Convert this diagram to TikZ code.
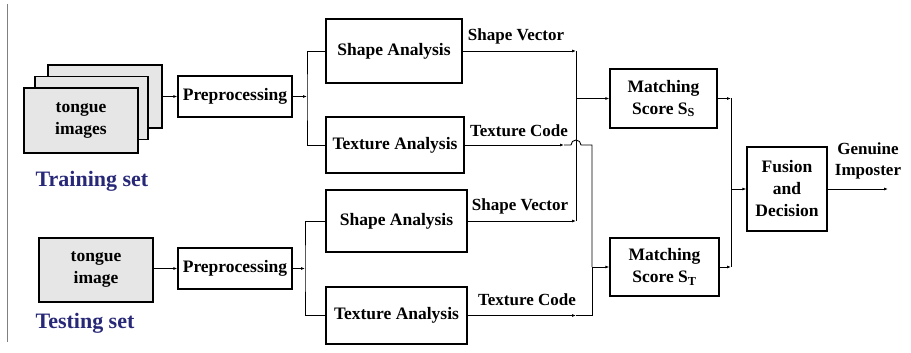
\documentclass[tikz,border=0pt]{standalone}
\usepackage{fontspec}
\setmainfont{Liberation Serif}
\usetikzlibrary{positioning}
\usetikzlibrary{arrows.meta}
\definecolor{setblue}{RGB}{40,40,120}
\definecolor{imggray}{RGB}{230,230,230}
\tikzset{>={Latex[length=4pt,width=3pt]}}
\tikzset{box/.style={draw, line width=1.3pt, inner sep=0pt, align=center,
  font=\fontsize{17.5}{22}\selectfont\bfseries}}
\tikzset{imgbox/.style={box, fill=imggray}}
\tikzset{lbl/.style={inner sep=0pt, align=center, font=\fontsize{17}{21}\selectfont\bfseries}}
\tikzset{setlbl/.style={inner sep=0pt, text=setblue, font=\fontsize{22}{26}\selectfont\bfseries}}
\tikzset{conn/.style={line width=0.9pt}}

\begin{document}
\begin{tikzpicture}[x=1pt,y=-1pt]
\useasboundingbox (0,0) rectangle (911,353);
\draw[gray, line width=0.8pt] (7,4) -- (7,342);
% training set
\node[imgbox, minimum width=114pt, minimum height=63pt] (imgback) at (105,96.5) {};
\node[imgbox, minimum width=113pt, minimum height=63pt] (imgmid) at (91.5,108) {};
\node[imgbox, minimum width=114pt, minimum height=65pt] (trainimg) at (81,120.5) {tongue\\images};
\node[setlbl] (trainlbl) at (92,181) {Training set};
\node[box, minimum width=114pt, minimum height=41pt] (prep1) at (235,96.5) {Preprocessing};
\node[box, minimum width=136pt, minimum height=64pt] (shape1) at (394,51) {Shape Analysis};
\node[box, minimum width=138pt, minimum height=56pt] (tex1) at (395,145) {Texture Analysis};
% testing set
\node[imgbox, minimum width=114pt, minimum height=64pt] (testimg) at (96,270) {tongue\\image};
\node[setlbl] (testlbl) at (85,323) {Testing set};
\node[box, minimum width=114pt, minimum height=41pt] (prep2) at (235,268.5) {Preprocessing};
\node[box, minimum width=141pt, minimum height=62pt] (shape2) at (396.5,221) {Shape Analysis};
\node[box, minimum width=141pt, minimum height=57pt] (tex2) at (396.5,315.5) {Texture Analysis};
% labels on the lines
\node[lbl] (sv1) at (516,36) {Shape Vector};
\node[lbl] (tc1) at (519,131) {Texture Code};
\node[lbl] (sv2) at (520,206) {Shape Vector};
\node[lbl] (tc2) at (527,300) {Texture Code};
% matching and fusion
\node[box, minimum width=107pt, minimum height=59pt] (msS) at (663.5,98.5) {Matching\\Score S\textsubscript{S}};
\node[box, minimum width=109pt, minimum height=58pt] (msT) at (664.5,267) {Matching\\Score S\textsubscript{T}};
\node[box, minimum width=80pt, minimum height=84pt] (fusion) at (787,189) {Fusion\\and\\Decision};
\node[lbl] (outlbl) at (868,161) {Genuine\\Imposter};

\coordinate (j1) at (307,96.5);
\coordinate (j2) at (305,268.5);
\coordinate (jsx) at (576,98.5);
\coordinate (jtx) at (592,267);
\coordinate (jf) at (731,189);
\coordinate (out) at (888,189);

\draw[conn,->] (imgback.east) -- (prep1.west);
\draw[conn,->] (testimg.east |- prep2.west) -- (prep2.west);
\draw[conn,->] (prep1.east) -- (j1);
\draw[conn] (shape1.west) -| (j1) |- (tex1.west);
\draw[conn,->] (prep2.east) -- (j2);
\draw[conn] (shape2.west) -| (j2) |- (tex2.west);
% shape vectors
\draw[conn,->] (shape1.east) -- (shape1.east -| jsx);
\draw[conn,->] (shape2.east) -- (shape2.east -| jsx);
\draw[conn] (shape1.east -| jsx) -- (shape2.east -| jsx);
\draw[conn,->] (jsx) -- (msS.west);
% texture codes
\draw[conn,->] (tex1.east) -- (564,145);
\draw[conn] (564,145) -- (571,145) arc[start angle=180, end angle=0, radius=5pt]
  -- (tex1.east -| jtx) -- (jtx);
\draw[conn,->] (tex2.east) -- (576,315.5);
\draw[conn] (576,315.5) -- (tex2.east -| jtx) -- (jtx);
\draw[conn,->] (jtx) -- (msT.west);
% fusion
\draw[conn,->] (msS.east) -- (msS.east -| jf);
\draw[conn,->] (msT.east) -- (msT.east -| jf);
\draw[conn] (msS.east -| jf) -- (msT.east -| jf);
\draw[conn,->] (jf) -- (fusion.west);
\draw[conn,->] (fusion.east) -- (out);
\end{tikzpicture}
\end{document}
